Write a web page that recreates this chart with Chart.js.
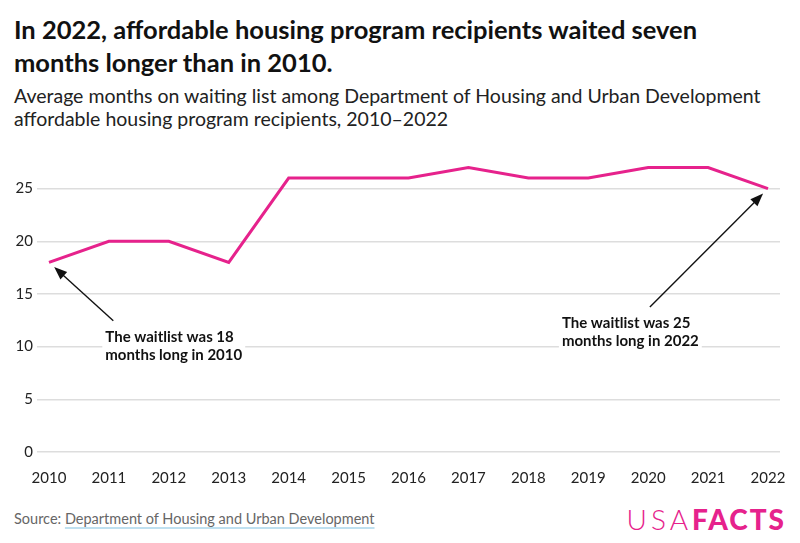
<!DOCTYPE html>
<html>
<head>
<meta charset="utf-8">
<script src="https://cdn.jsdelivr.net/npm/chart.js@4.4.1/dist/chart.umd.min.js"></script>
<style>
  body { margin: 0; width: 800px; height: 543px; background: #fff; font-family: Lato, sans-serif; position: relative; overflow: hidden; }
  #title { position: absolute; left: 14px; top: 13px; width: 720px; font-size: 25.5px; font-weight: 700; line-height: 33px; color: #111; }
  #sub { position: absolute; left: 14px; top: 84px; width: 780px; font-size: 19.5px; line-height: 23px; color: #222; }
  #wrap { position: absolute; left: 0; top: 140px; width: 800px; height: 345px; }
  #source { position: absolute; left: 14px; top: 510px; font-size: 14.5px; color: #666; }
  #source span { text-decoration: underline; text-decoration-color: #bfe0f0; text-underline-offset: 3px; text-decoration-thickness: 2px; }
  #logo { position: absolute; right: 14px; top: 502px; font-size: 28px; color: #e6228c; white-space: nowrap; }
  #logo .a { font-weight: 300; letter-spacing: 4px; }
  #logo .b { font-weight: 900; letter-spacing: 2px; }
</style>
</head>
<body>
<div id="title">In 2022, affordable housing program recipients waited seven months longer than in 2010.</div>
<div id="sub">Average months on waiting list among Department of Housing and Urban Development affordable housing program recipients, 2010–2022</div>
<div id="wrap"><canvas id="waitlist-chart"></canvas></div>
<div id="source">Source: <span>Department of Housing and Urban Development</span></div>
<div id="logo"><span class="a">USA</span><span class="b">FACTS</span></div>
<script>
// waitlist chart

const years = [2010, 2011, 2012, 2013, 2014, 2015, 2016, 2017, 2018, 2019, 2020, 2021, 2022];
const months = [18, 20, 20, 18, 26, 26, 26, 27, 26, 26, 27, 27, 25];
const yTicks = [0, 5, 10, 15, 20, 25];

const notes = [
    { year: 2010, value: 18, lines: ['The waitlist was 18', 'months long in 2010'], at: [2010.94, 11.6], from: 8 },
    { year: 2022, value: 25, lines: ['The waitlist was 25', 'months long in 2022'], at: [2018.56, 12.9], from: 88 }
];

const notesPlugin = {
    id: 'notes',
    afterDatasetsDraw(chart) {
        const ctx = chart.ctx;
        const x = chart.scales.x, y = chart.scales.y;
        ctx.save();
        ctx.font = 'bold 15px Lato';
        notes.forEach(n => {
            const tx = x.getPixelForValue(n.at[0]);
            const ty = y.getPixelForValue(n.at[1]);
            const w = Math.max(...n.lines.map(l => ctx.measureText(l).width));
            ctx.fillStyle = '#fff';
            ctx.fillRect(tx - 3, ty - 2, w + 6, n.lines.length * 18 + 4);
            ctx.fillStyle = '#111';
            ctx.textBaseline = 'top';
            n.lines.forEach((l, i) => ctx.fillText(l, tx, ty + i * 18));

            // arrow
            const px = x.getPixelForValue(n.year), py = y.getPixelForValue(n.value);
            const sx = tx + n.from, sy = ty - 9;
            const dx = px - sx, dy = py - sy, len = Math.hypot(dx, dy);
            const ux = dx / len, uy = dy / len;
            const ex = px - ux * 7, ey = py - uy * 7;
            ctx.strokeStyle = '#111';
            ctx.lineWidth = 1.4;
            ctx.beginPath();
            ctx.moveTo(sx, sy);
            ctx.lineTo(ex - ux * 10, ey - uy * 10);
            ctx.stroke();
            ctx.fillStyle = '#111';
            ctx.beginPath();
            ctx.moveTo(ex, ey);
            ctx.lineTo(ex - ux * 13 - uy * 5, ey - uy * 13 + ux * 5);
            ctx.lineTo(ex - ux * 13 + uy * 5, ey - uy * 13 - ux * 5);
            ctx.closePath();
            ctx.fill();
        });
        ctx.restore();
    }
};

const config = {
    type: 'line',
    data: {
        datasets: [{
            data: years.map((yr, i) => ({ x: yr, y: months[i] })),
            borderColor: '#e6228c',
            borderWidth: 3,
            pointRadius: 0,
            tension: 0,
            fill: false
        }]
    },
    options: {
        responsive: true,
        maintainAspectRatio: false,
        animation: false,
        layout: { padding: { top: 17, right: 20, left: 0, bottom: 0 } },
        plugins: {
            legend: { display: false },
            tooltip: { enabled: false }
        },
        scales: {
            x: {
                type: 'linear',
                min: 2009.8,
                max: 2022.2,
                afterBuildTicks: s => { s.ticks = years.map(v => ({ value: v })); },
                afterFit: s => { s.height = 33; },
                grid: { display: false },
                border: { display: false },
                ticks: { padding: 9, color: '#222', font: { family: 'Lato', size: 15 }, callback: v => String(v) }
            },
            y: {
                min: 0,
                max: 28,
                afterBuildTicks: s => { s.ticks = yTicks.map(v => ({ value: v })); },
                afterFit: s => { s.width = 37; },
                grid: { color: '#dddddd', lineWidth: 1.5, drawTicks: false },
                border: { display: false },
                ticks: { padding: 4, color: '#222', font: { family: 'Lato', size: 15 } }
            }
        }
    },
    plugins: [notesPlugin]
};

var waitlistChart = new Chart(document.getElementById('waitlist-chart'), config);
</script>
</body>
</html>
